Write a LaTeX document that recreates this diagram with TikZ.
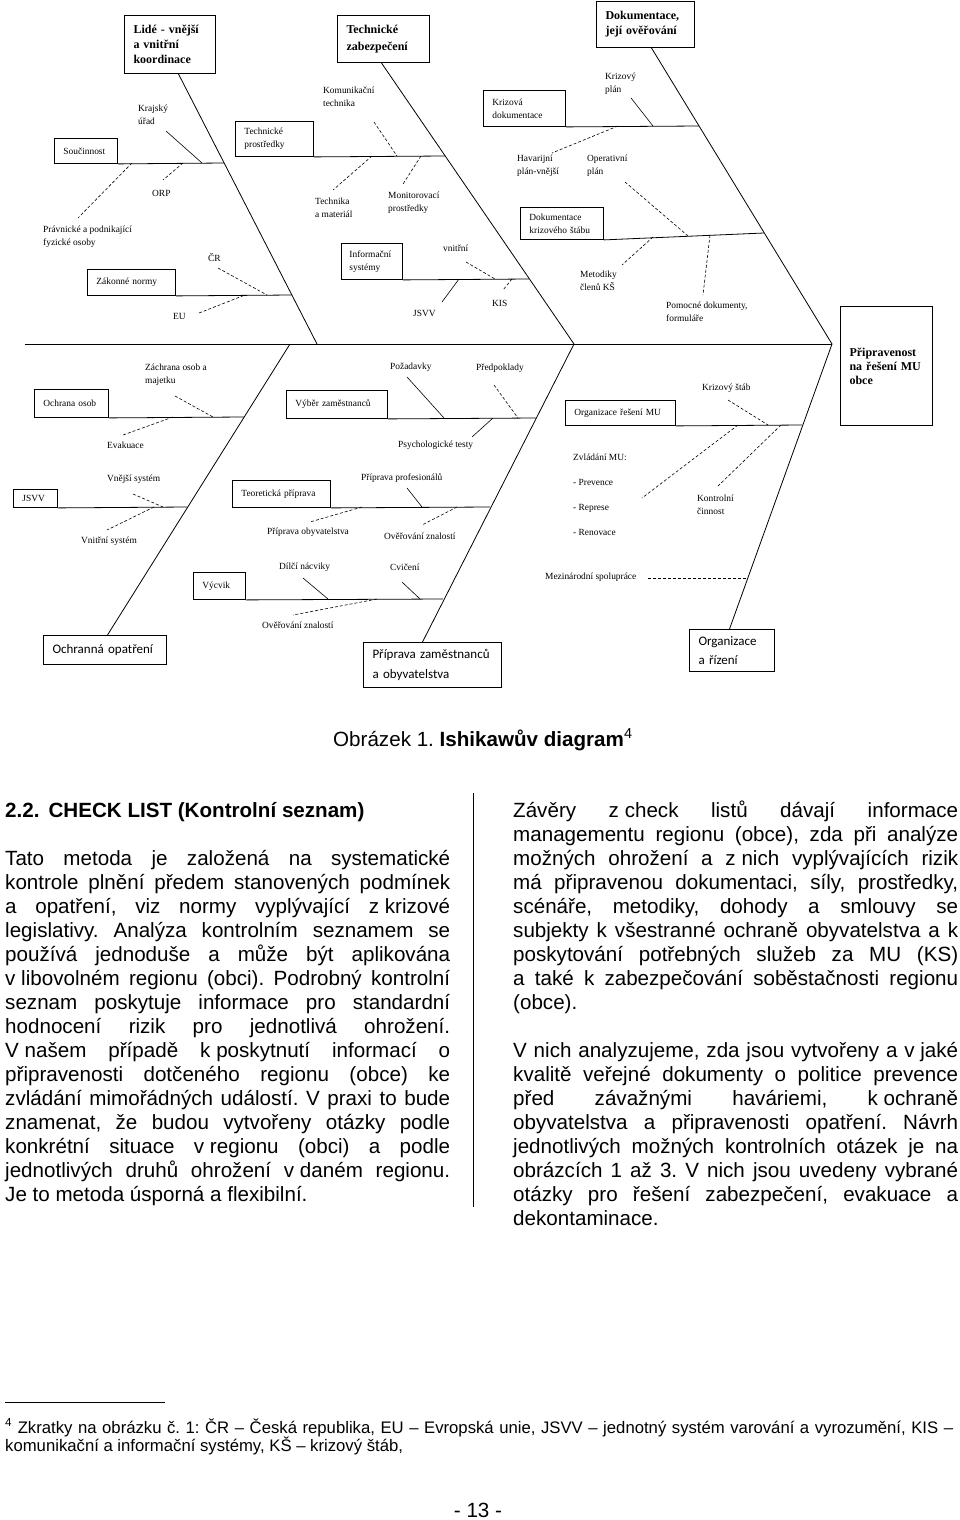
\documentclass[tikz,border=0pt]{standalone}
\usepackage{fontspec}
\setmainfont{Liberation Sans}
\newfontfamily\diafont{Liberation Serif}
\newfontfamily\calfont{Carlito}
\usetikzlibrary{positioning}
\frenchspacing

% fixed (non-stretching) space and one justified line of a column
\newcommand{\fsp}{\kern0.28em}
\newcommand{\jline}[1]{\makebox[445pt][s]{#1}}

\tikzset{
    catbox/.style={draw, line width=1pt, anchor=north west, align=left, inner xsep=9pt, inner ysep=0pt,
        font=\diafont\bfseries\fontsize{12}{15}\selectfont},
    calbox/.style={draw, line width=1pt, anchor=north west, align=left, inner xsep=9pt, inner ysep=0pt,
        font=\calfont\fontsize{13}{19}\selectfont},
    subbox/.style={draw, line width=0.9pt, anchor=north west, align=left, inner xsep=9pt, inner ysep=0pt,
        font=\diafont\fontsize{9.4}{13}\selectfont},
    lbl/.style={anchor=west, align=left, inner sep=0pt, font=\diafont\fontsize{9.4}{13}\selectfont},
    bone/.style={line width=0.8pt},
    twig/.style={line width=0.6pt},
    dtwig/.style={line width=0.6pt, densely dashed},
    body/.style={anchor=base west, inner sep=0pt, font=\fontsize{20.6}{24}\selectfont},
}

\begin{document}
\begin{tikzpicture}[x=1pt,y=1pt,yscale=-1]
        \useasboundingbox[fill=white] (0,0) rectangle (960,1520);

        % ---- head and spine
        \node[catbox, minimum width=92pt, minimum height=119pt, text width=74pt,
              font=\diafont\bfseries\fontsize{12}{14}\selectfont] (head) at (840,306) {Připravenost\\na řešení MU\\obce};
        \coordinate (tail) at (25,344);
        \coordinate (nose) at (832,344);
        \draw[bone] (tail) -- (nose);

        % ---- main categories
        \node[catbox, minimum width=91pt, minimum height=58pt, text width=73pt] (lide) at (124,15) {Lidé - vnější\\a vnitřní\\koordinace};
        \node[catbox, minimum width=92pt, minimum height=47pt, text width=74pt,
              font=\diafont\bfseries\fontsize{12}{17}\selectfont] (techz) at (337,15) {Technické\\zabezpečení};
        \node[catbox, minimum width=98pt, minimum height=46pt, text width=80pt] (dokum) at (596,1) {Dokumentace,\\její ověřování};
        \node[calbox, minimum width=123pt, minimum height=29pt, text width=105pt] (ochr) at (43,635) {Ochranná opatření};
        \node[calbox, minimum width=138pt, minimum height=45pt, text width=120pt,
              font=\calfont\fontsize{13}{20}\selectfont] (pripr) at (363,642) {Příprava zaměstnanců\\a obyvatelstva};
        \node[calbox, minimum width=85pt, minimum height=42pt, text width=67pt] (orgr) at (689,629) {Organizace\\a řízení};

        \coordinate (j1) at (317,344);
        \coordinate (j2) at (574,344);
        \coordinate (j4) at (290,344);
        \draw[bone] ([xshift=8.5pt]lide.south) -- (j1);
        \draw[bone] ([xshift=-2pt]techz.south) -- (j2);
        \draw[bone] ([xshift=6pt]dokum.south) -- (nose);
        \draw[bone] ([xshift=2.5pt]ochr.north) -- (j4);
        \draw[bone] ([xshift=-10pt]pripr.north) -- (j2);
        \draw[bone] ([xshift=-2.5pt]orgr.north) -- (nose);

        % ---- sub causes
        \node[subbox, minimum width=63pt, minimum height=25pt, text width=45pt] (souc) at (54,138) {Součinnost};
        \node[subbox, minimum width=88pt, minimum height=26pt, text width=70pt] (zakon) at (87,269) {Zákonné normy};
        \node[subbox, minimum width=78pt, minimum height=35pt, text width=60pt] (techp) at (235,121) {Technické\\prostředky};
        \node[subbox, minimum width=61pt, minimum height=36pt, text width=45pt, inner xsep=8pt] (infos) at (341,243) {Informační\\systémy};
        \node[subbox, minimum width=82pt, minimum height=36pt, text width=64pt] (krizd) at (483,90) {Krizová\\dokumentace};
        \node[subbox, minimum width=83pt, minimum height=32pt, text width=65pt] (dokks) at (520,207) {Dokumentace\\krizového štábu};
        \node[subbox, minimum width=74pt, minimum height=28pt, text width=56pt] (ochos) at (34,389) {Ochrana osob};
        \node[subbox, minimum width=44pt, minimum height=18pt, text width=26pt] (jsvvb) at (13,489) {JSVV};
        \node[subbox, minimum width=101pt, minimum height=28pt, text width=83pt] (vyber) at (286,390) {Výběr zaměstnanců};
        \node[subbox, minimum width=98pt, minimum height=27pt, text width=80pt] (teor) at (232,480) {Teoretická příprava};
        \node[subbox, minimum width=52pt, minimum height=27pt, text width=34pt] (vycvik) at (193,572) {Výcvik};
        \node[subbox, minimum width=110pt, minimum height=25pt, text width=92pt] (orgmu) at (565,400) {Organizace řešení MU};

        \draw[bone] (souc.south east) -- (224,163);
        \draw[bone] (zakon.south east) -- (292,295);
        \draw[bone] (techp.south east) -- (445,156);
        \draw[bone] (infos.south east) -- (529,279);
        \draw[bone] (krizd.south east) -- (699,126);
        \draw[bone] (dokks.south east) -- (764,233);
        \draw[bone] (ochos.south east) -- (244,417);
        \draw[bone] (jsvvb.south east) -- (187,507);
        \draw[bone] (vyber.south east) -- (536,418);
        \draw[bone] (teor.south east) -- (490,507);
        \draw[bone] (vycvik.south east) -- (443,599);
        \draw[bone] (orgmu.south east) -- (802,425);

        % ---- labels
        \node[lbl] (krajsky) at (138,114.5) {Krajský\\úřad};
        \node[lbl] (orp) at (152,193) {ORP};
        \node[lbl] (pravn) at (43,236.5) {Právnické a podnikající\\fyzické osoby};
        \node[lbl] (cr) at (208,258) {ČR};
        \node[lbl] (eu) at (173,316) {EU};
        \node[lbl] (komun) at (323,97) {Komunikační\\technika};
        \node[lbl] (techm) at (315,207.5) {Technika\\a materiál};
        \node[lbl] (monit) at (388,202.5) {Monitorovací\\prostředky};
        \node[lbl] (vnitr) at (443,248) {vnitřní};
        \node[lbl] (jsvvl) at (413,313) {JSVV};
        \node[lbl] (kis) at (492,303) {KIS};
        \node[lbl] (krizplan) at (605,83.5) {Krizový\\plán};
        \node[lbl] (havar) at (517,165.5) {Havarijní\\plán-vnější};
        \node[lbl] (operat) at (587,165.5) {Operativní\\plán};
        \node[lbl] (metod) at (580,280.5) {Metodiky\\členů KŠ};
        \node[lbl] (pomoc) at (666,311.5) {Pomocné dokumenty,\\formuláře};
        \node[lbl] (zachr) at (145,375) {Záchrana osob a\\majetku};
        \node[lbl] (evak) at (107,445) {Evakuace};
        \node[lbl] (vnejsi) at (107,479) {Vnější systém};
        \node[lbl] (vnitrs) at (81,541) {Vnitřní systém};
        \node[lbl] (pozad) at (390,367) {Požadavky};
        \node[lbl] (predp) at (476,368) {Předpoklady};
        \node[lbl] (psych) at (398,445) {Psychologické testy};
        \node[lbl] (profes) at (361,478) {Příprava profesionálů};
        \node[lbl] (obyv) at (267,532) {Příprava obyvatelstva};
        \node[lbl] (overa) at (384,536) {Ověřování znalostí};
        \node[lbl] (dilci) at (279,567) {Dílčí nácviky};
        \node[lbl] (cvic) at (390,567) {Cvičení};
        \node[lbl] (overb) at (262,625) {Ověřování znalostí};
        \node[lbl] (krizstab) at (702,388) {Krizový štáb};
        \node[lbl, font=\diafont\fontsize{9.4}{25}\selectfont] (zvlad) at (573,494.5) {Zvládání MU:\\- Prevence\\- Represe\\- Renovace};
        \node[lbl] (kontr) at (697,504.5) {Kontrolní\\činnost};
        \node[lbl] (mezin) at (545,577) {Mezinárodní spolupráce};

        % ---- twigs
        \draw[twig]  (166,131) -- (202,163);
        \draw[dtwig] (183,163) -- (163,180);
        \draw[dtwig] (132,163) -- (78,218);
        \draw[dtwig] (218,268) -- (267,295);
        \draw[dtwig] (199,313) -- (245,295);
        \draw[dtwig] (374,122) -- (397,156);
        \draw[dtwig] (372,156) -- (333,190);
        \draw[dtwig] (421,156) -- (403,184);
        \draw[dtwig] (466,262) -- (495,279);
        \draw[twig]  (459,279) -- (442,302);
        \draw[dtwig] (512,279) -- (503,290);
        \draw[twig]  (631,98) -- (653,126);
        \draw[dtwig] (618,126) -- (552,153);
        \draw[dtwig] (625,182) -- (688,236);
        \draw[dtwig] (653,237) -- (622,265);
        \draw[dtwig] (710,235) -- (703,295);
        \draw[dtwig] (175,396) -- (213,417);
        \draw[dtwig] (173,417) -- (123,435);
        \draw[dtwig] (133,494) -- (163,507);
        \draw[dtwig] (154,507) -- (107,530);
        \draw[twig]  (407,377) -- (444,418);
        \draw[dtwig] (494,385) -- (518,418);
        \draw[twig]  (493,418) -- (472,437);
        \draw[twig]  (407,488) -- (422,507);
        \draw[dtwig] (362,507) -- (310,522);
        \draw[dtwig] (457,507) -- (422,525);
        \draw[twig]  (303,578) -- (328,599);
        \draw[twig]  (402,582) -- (420,599);
        \draw[dtwig] (377,599) -- (293,615);
        \draw[dtwig] (728,400) -- (768,425);
        \draw[dtwig] (738,425) -- (642,498);
        \draw[dtwig] (781,425) -- (717,487);
        \draw[dtwig] (648,578) -- (747,578);

        % ---- caption and text
        \node[body] (caption) at (333,746) {Obrázek 1. \textbf{Ishikawův diagram}\textsuperscript{4}};
        \node[body, font=\bfseries\fontsize{20.6}{24}\selectfont] (heading) at (5,817) {2.2.\hspace{9pt}CHECK LIST (Kontrolní seznam)};
        \draw[line width=0.9pt] (473,793) -- (473,1207);

        \foreach \t [count=\i from 0] in {
            {Tato metoda je založená na systematické},
            {kontrole plnění předem stanovených podmínek},
            {a opatření, viz normy vyplývající z\fsp krizové},
            {legislativy. Analýza kontrolním seznamem se},
            {používá jednoduše a může být aplikována},
            {v\fsp libovolném regionu (obci). Podrobný kontrolní},
            {seznam poskytuje informace pro standardní},
            {hodnocení rizik pro jednotlivá ohrožení.},
            {V\fsp našem případě k\fsp poskytnutí informací o},
            {připravenosti dotčeného regionu (obce) ke},
            {zvládání mimořádných událostí. V praxi to bude},
            {znamenat, že budou vytvořeny otázky podle},
            {konkrétní situace v\fsp regionu (obci) a podle},
            {jednotlivých druhů ohrožení v\fsp daném regionu.}}
            \node[body] (left\i) at (5,865+24*\i) {\jline{\t}};
        \node[body] (left14) at (5,1201) {Je to metoda úsporná a flexibilní.};

        \foreach \t [count=\i from 0] in {
            {Závěry z\fsp check listů dávají informace},
            {managementu regionu (obce), zda při analýze},
            {možných ohrožení a z\fsp nich vyplývajících rizik},
            {má připravenou dokumentaci, síly, prostředky,},
            {scénáře, metodiky, dohody a smlouvy se},
            {subjekty k všestranné ochraně obyvatelstva a k},
            {poskytování potřebných služeb za MU (KS)},
            {a také k zabezpečování soběstačnosti regionu}}
            \node[body] (right\i) at (513,817+24*\i) {\jline{\t}};
        \node[body] (right8) at (513,1009) {(obce).};

        \foreach \t [count=\i from 0] in {
            {V nich analyzujeme, zda jsou vytvořeny a v\fsp jaké},
            {kvalitě veřejné dokumenty o politice prevence},
            {před závažnými haváriemi, k\fsp ochraně},
            {obyvatelstva a připravenosti opatření. Návrh},
            {jednotlivých možných kontrolních otázek je na},
            {obrázcích 1 až 3. V nich jsou uvedeny vybrané},
            {otázky pro řešení zabezpečení, evakuace a}}
            \node[body] (next\i) at (513,1057+24*\i) {\jline{\t}};
        \node[body] (next7) at (513,1225) {dekontaminace.};

        % ---- footnote and page number
        \draw[line width=0.9pt] (5,1402) -- (165,1402);
        \node[body, font=\fontsize{16.7}{18}\selectfont] (foot1) at (5,1433)
            {\makebox[948pt][s]{\textsuperscript{4} Zkratky na obrázku č. 1: ČR – Česká republika, EU – Evropská unie, JSVV – jednotný systém varování a vyrozumění, KIS –}};
        \node[body, font=\fontsize{16.7}{18}\selectfont] (foot2) at (5,1451) {komunikační a informační systémy, KŠ – krizový štáb,};
        \node[body, anchor=base] (page) at (478,1517) {- 13 -};
\end{tikzpicture}
\end{document}
